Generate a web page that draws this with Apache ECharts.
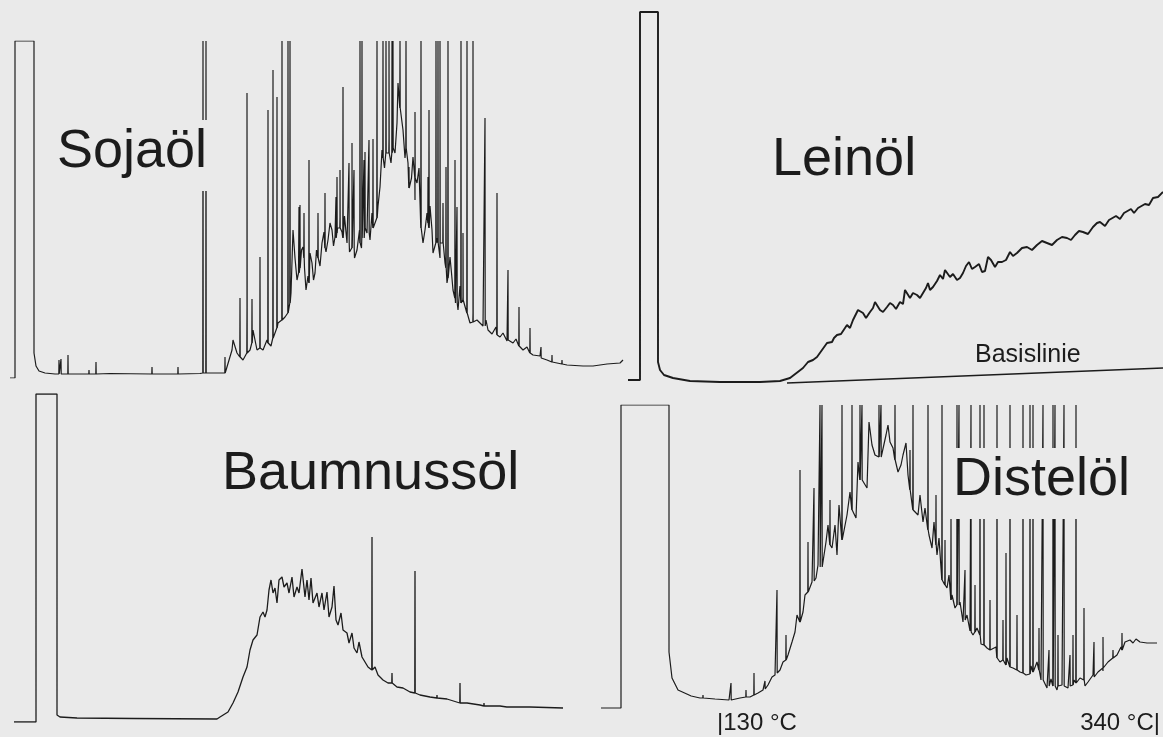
<!DOCTYPE html>
<html>
<head>
<meta charset="utf-8">
<script src="https://cdn.jsdelivr.net/npm/echarts@6/dist/echarts.min.js"></script>
<style>
html,body{margin:0;padding:0;background:#eaeaea;}
#c{width:1163px;height:737px;}
</style>
</head>
<body>
<div id="c"></div>
<script>
// ---- Panel names ----
const panelNames = ['Sojaöl', 'Leinöl', 'Baumnussöl', 'Distelöl'];
const tempLabels = ['|130 °C', '340 °C|'];
const baselineLabel = 'Basislinie';

// ---- Sojaöl: trace [time, signal] and spikes [time, base, peak] ----
const sojaTrace = [[0,0],[0.5,0],[0.5,33.7],[2.4,33.7],[2.4,2.5],[2.6,1.2],[2.9,0.7],[3.5,0.5],[4.5,0.4],[10,0.45],[15,0.4],[19,0.45],[19.7,0.47],[21.7,0.47],[22.2,2.8],[22.3,3.8],[22.7,2.5],[23.0,2.1],[23.3,1.8],[23.7,7.1],[24.0,2.8],[24.3,4.8],[24.7,2.8],[25.0,3.2],[25.3,2.8],[25.7,3.8],[26.1,3.2],[26.8,5.5],[27.5,6.1],[28.1,8.5],[28.3,14.8],[28.5,12.0],[28.7,9.8],[28.85,10.5],[29.0,11.5],[29.15,12.8],[29.3,13.1],[29.45,11.0],[29.6,8.8],[29.8,10.2],[30.0,12.5],[30.2,11.5],[30.35,9.8],[30.5,10.5],[30.65,12.8],[30.8,12.1],[31.0,11.2],[31.2,13.5],[31.4,14.6],[31.6,12.6],[31.8,13.8],[32.0,15.5],[32.2,14.8],[32.35,13.2],[32.5,14.1],[32.75,15.0],[33.0,16.1],[33.2,14.6],[33.45,16.2],[33.7,13.5],[33.95,12.6],[34.2,14.2],[34.45,12.0],[34.7,12.8],[34.95,14.8],[35.15,13.0],[35.3,14.1],[35.5,15.8],[35.7,14.5],[36.0,13.8],[36.2,16.5],[36.5,15.1],[36.8,17.2],[37.0,19.1],[37.2,22.8],[37.45,21.0],[37.7,22.5],[37.9,24.0],[38.1,21.5],[38.3,24.5],[38.5,22.5],[38.7,25.5],[38.8,29.5],[39.1,27.0],[39.3,24.8],[39.5,22.0],[39.8,21.5],[40.0,18.8],[40.15,20.0],[40.3,22.1],[40.5,17.8],[40.7,19.5],[40.9,21.0],[41.1,15.2],[41.3,13.5],[41.5,14.8],[41.7,16.5],[42.0,17.2],[42.2,14.8],[42.3,12.5],[42.7,14.0],[43.0,12.0],[43.3,13.5],[43.5,11.5],[43.7,9.5],[44.0,12.1],[44.15,10.5],[44.3,8.8],[44.55,7.5],[44.8,6.8],[45.0,9.2],[45.3,8.1],[45.6,6.8],[46.0,5.5],[46.3,6.5],[46.7,5.8],[47.0,5.5],[47.3,5.2],[47.6,5.8],[47.8,4.8],[48.2,4.4],[48.6,5.1],[49.0,4.1],[49.3,4.5],[49.7,3.7],[50.3,3.5],[50.6,3.9],[51.3,2.8],[51.7,3.1],[52.3,2.3],[53.0,2.2],[53.7,1.8],[54.7,1.5],[55.7,1.3],[57.3,1.2],[58.3,1.2],[59.7,1.4],[61.0,1.5],[61.3,1.8]];
const sojaSpikes = [[4.9,0.4,1.8],[5.1,0.4,1.9],[5.8,0.4,2.3],[7.9,0.4,0.8],[8.6,0.4,1.6],[14.2,0.4,1.1],[16.8,0.4,1.1],[19.3,0.5,33.7],[19.6,0.5,33.7],[21.5,0.5,2.1],[23.0,2.1,8.0],[23.7,2.5,28.5],[24.2,3.5,7.9],[25.0,3.0,12.1],[25.8,3.5,26.8],[26.3,4.0,30.8],[26.7,5.0,28.1],[27.2,5.8,33.7],[27.8,6.5,33.7],[28.0,7.5,33.7],[28.9,10.5,17.1],[29.0,11.0,17.3],[29.4,12.0,16.5],[29.9,9.5,21.8],[30.8,12.0,16.5],[31.5,13.0,18.5],[32.6,14.0,18.1],[32.7,14.5,20.1],[33.0,15.0,20.8],[33.3,14.0,29.1],[33.9,13.5,21.5],[34.2,13.0,23.5],[34.4,13.0,20.8],[35.0,13.5,33.7],[35.2,14.0,33.7],[35.4,14.0,21.8],[35.5,15.0,22.6],[35.9,14.5,23.8],[36.3,15.0,23.9],[36.7,16.0,33.7],[37.3,22.0,33.7],[37.6,22.5,33.7],[37.9,22.5,33.7],[38.2,22.5,33.7],[38.3,23.0,33.7],[39.0,27.0,33.7],[39.6,23.0,33.7],[39.9,19.0,21.1],[40.5,20.0,26.6],[41.1,15.0,33.7],[41.8,15.5,20.1],[41.9,15.0,26.8],[42.6,13.5,33.7],[42.8,13.5,33.7],[43.0,13.5,33.7],[43.3,13.5,17.5],[43.6,11.0,21.1],[43.8,10.0,33.7],[44.5,8.0,21.8],[44.7,7.5,17.1],[45.1,7.5,33.7],[45.3,7.8,14.5],[45.7,6.5,33.7],[46.3,5.6,33.7],[47.5,5.2,26.0],[48.7,4.3,18.5],[49.8,3.8,10.8],[50.9,3.2,7.1],[52.0,2.5,5.0],[53.1,2.0,3.1],[54.2,1.6,2.3],[55.2,1.4,1.8]];

// ---- Leinöl ----
const leinTrace = [[0,0.4],[1.2,0.4],[1.2,37.2],[3.0,37.2],[3.0,2.2],[3.2,1.4],[3.6,0.9],[4.5,0.6],[6.2,0.3],[9.2,0.2],[13.2,0.2],[15.2,0.3],[16.2,0.6],[17.5,1.6],[18.0,2.2],[18.5,2.4],[18.9,2.7],[19.4,3.4],[19.9,4.1],[20.4,4.2],[20.6,4.6],[20.9,4.9],[21.3,5.0],[21.9,5.9],[22.2,5.6],[22.5,6.4],[22.8,7.0],[23.0,7.4],[23.5,7.1],[23.8,6.6],[24.2,7.2],[24.5,7.6],[24.7,8.2],[25.2,7.4],[25.5,7.2],[25.9,7.7],[26.2,8.1],[26.5,7.9],[26.8,7.5],[27.2,8.2],[27.5,8.0],[27.7,9.4],[28.2,8.6],[28.5,9.1],[28.9,8.9],[29.2,8.6],[29.5,9.1],[29.8,9.6],[30.0,10.1],[30.2,9.4],[30.5,9.7],[30.9,10.3],[31.2,10.9],[31.5,10.5],[31.7,11.4],[32.2,10.7],[32.5,11.0],[32.9,10.4],[33.2,10.6],[33.5,11.1],[33.8,11.8],[34.1,12.2],[34.4,11.5],[34.7,11.7],[35.1,12.0],[35.4,11.2],[35.7,11.3],[36.0,12.7],[36.3,12.4],[36.7,11.7],[37.0,12.2],[37.4,12.2],[37.8,12.4],[38.2,13.2],[38.5,12.8],[38.9,13.1],[39.4,13.6],[39.9,13.7],[40.4,13.4],[40.9,13.9],[41.4,14.3],[41.9,14.1],[42.4,13.9],[42.9,14.4],[43.4,14.7],[43.9,14.6],[44.3,14.4],[44.7,14.9],[45.1,15.3],[45.5,15.2],[46.0,15.0],[46.5,15.7],[46.9,16.1],[47.2,16.2],[47.7,15.8],[48.1,16.4],[48.8,16.8],[49.2,16.5],[49.6,17.1],[50.3,17.5],[50.6,17.1],[51.0,17.6],[51.7,18.0],[52.1,17.9],[52.5,18.6],[53.0,18.7],[53.5,19.2]];
const leinBaseline = [[15.9,0.1],[53.5,1.6]];

// ---- Baumnussöl ----
const baumTrace = [[0,0],[2.2,0],[2.2,32.8],[4.3,32.8],[4.3,0.7],[4.6,0.5],[6.3,0.4],[12,0.35],[20.3,0.3],[20.6,0.5],[21.4,1.0],[21.9,1.9],[22.4,3.0],[22.9,4.5],[23.3,5.5],[23.6,7.2],[23.9,8.2],[24.3,8.7],[24.6,10.5],[24.9,11.0],[25.1,10.5],[25.3,11.2],[25.5,13.2],[25.7,14.2],[25.9,12.9],[26.1,13.4],[26.3,11.9],[26.5,14.2],[26.8,14.5],[27.0,13.5],[27.3,13.9],[27.5,12.9],[27.8,14.5],[28.0,12.5],[28.3,13.5],[28.5,12.9],[28.8,15.3],[29.1,12.5],[29.3,14.2],[29.5,12.2],[29.7,14.4],[29.9,11.9],[30.3,12.9],[30.5,11.5],[30.8,12.9],[31.0,11.2],[31.3,13.0],[31.5,10.5],[31.8,11.5],[32.0,13.6],[32.2,10.2],[32.4,9.7],[32.7,10.9],[32.9,9.2],[33.3,8.9],[33.5,7.9],[33.8,8.9],[34.0,7.4],[34.3,6.9],[34.5,8.0],[34.8,6.5],[35.1,6.0],[35.4,5.5],[36.1,5.5],[36.4,4.7],[36.9,4.2],[37.4,3.9],[38.3,3.5],[38.9,3.4],[39.6,3.0],[40.6,2.7],[41.6,2.5],[43.3,2.3],[45.3,1.9],[46.6,1.7],[48.6,1.6],[51.6,1.5],[54.9,1.4]];
const baumSpikes = [[35.8,5.2,18.5],[37.8,3.9,4.9],[40.1,2.9,15.1],[42.3,2.4,2.7],[44.6,1.9,3.9],[47.0,1.6,1.9],[49.3,1.5,1.7]];

// ---- Distelöl ----
const distTrace = [[0,0.2],[2.0,0.2],[2.0,30.5],[6.8,30.5],[6.8,5.8],[7.1,3.2],[7.7,2.0],[8.8,1.5],[9.9,1.2],[11.4,1.1],[12.8,1.0],[13.9,1.2],[14.9,1.3],[15.7,1.7],[16.2,2.0],[16.7,2.5],[17.1,3.3],[17.4,3.5],[17.9,4.0],[18.2,4.8],[18.7,5.5],[19.1,6.8],[19.4,7.8],[19.6,9.5],[19.9,8.8],[20.2,9.8],[20.4,11.5],[20.7,11.8],[21.1,12.8],[21.5,13.2],[21.7,14.5],[22.2,14.2],[22.5,16.8],[22.7,18.5],[23.1,16.2],[23.4,18.5],[23.6,15.5],[23.8,20.5],[24.3,16.8],[24.6,19.5],[24.9,21.8],[25.3,19.8],[25.5,19.2],[25.7,24.8],[26.3,22.8],[26.6,22.2],[26.8,28.8],[27.1,26.5],[27.4,25.5],[28.2,25.2],[28.5,27.5],[28.7,28.5],[28.9,26.8],[29.2,26.2],[29.7,23.8],[30.0,24.5],[30.2,25.5],[30.5,26.7],[30.7,23.5],[31.0,22.0],[31.4,20.2],[31.7,19.5],[31.9,21.5],[32.2,18.8],[32.4,20.2],[32.8,17.5],[33.1,16.2],[33.3,18.8],[33.6,15.5],[33.8,17.2],[34.2,12.8],[34.6,12.2],[34.8,13.5],[35.1,11.5],[35.4,10.2],[35.9,10.8],[36.2,8.8],[36.6,9.5],[36.9,7.9],[37.2,7.5],[37.6,8.2],[38.0,6.6],[38.6,6.2],[39.1,5.8],[39.5,6.3],[39.9,4.8],[40.6,5.2],[41.2,4.2],[41.9,3.8],[42.5,3.5],[43.0,4.4],[43.6,4.8],[44.0,3.0],[44.6,2.2],[45.0,3.1],[45.6,2.0],[46.1,2.5],[46.7,2.2],[47.3,3.0],[47.9,3.2],[48.4,2.4],[48.7,2.8],[49.2,3.5],[49.7,3.8],[50.2,3.9],[50.7,4.8],[51.2,5.0],[51.6,5.5],[52.0,6.3],[52.4,6.8],[52.9,7.0],[53.2,6.7],[53.5,7.1],[53.9,6.8],[54.6,6.7],[55.6,6.7]];
const distSpikes = [[9.0,1.4,1.7],[10.2,1.2,1.5],[13.0,1.0,2.7],[14.5,1.3,2.0],[15.3,1.5,3.7],[16.4,2.1,2.9],[17.6,3.7,12.0],[18.5,5.0,7.5],[19.9,8.8,24.0],[20.7,11.8,16.8],[21.3,12.9,22.2],[21.9,14.3,30.5],[22.1,14.3,30.5],[22.9,16.5,21.0],[24.1,17.0,30.5],[25.1,20.0,30.5],[25.9,23.0,30.5],[26.1,23.0,30.5],[27.8,25.3,30.5],[28.0,25.3,30.5],[29.4,25.0,30.5],[30.9,22.0,26.0],[31.2,20.0,30.5],[32.7,18.0,30.5],[33.5,16.5,21.5],[34.1,13.0,30.5],[34.4,12.5,17.0],[35.0,11.0,19.5],[35.6,10.5,30.5],[35.8,10.5,30.5],[36.4,9.0,14.0],[37.0,7.8,30.5],[37.4,7.8,12.5],[37.9,7.5,30.5],[38.3,6.5,30.5],[38.9,6.0,11.0],[39.6,5.2,30.5],[40.2,5.0,9.0],[40.5,4.5,15.7],[40.9,4.3,30.5],[41.6,4.0,9.5],[42.2,3.7,30.5],[42.9,3.6,30.5],[43.2,3.8,30.5],[43.8,4.0,8.2],[44.2,3.0,30.5],[44.8,2.4,6.0],[45.2,2.4,30.5],[45.4,2.4,30.5],[45.7,2.4,7.5],[46.3,2.4,30.5],[46.9,2.4,5.5],[47.2,2.5,7.5],[47.5,2.7,30.5],[48.3,3.0,10.2],[49.3,3.3,6.8],[50.2,4.2,7.3],[51.2,5.2,6.0],[52.1,6.0,7.7]];

// ---- build line data (trace + spikes merged in time order) ----
function merge(trace, spikes) {
  const pts = trace.map(p => [p[0], p[1]]);
  spikes.forEach(s => {
    pts.push([s[0] - 0.02, s[1]], [s[0], s[2]], [s[0] + 0.02, s[1]]);
  });
  return pts.sort((a, b) => a[0] - b[0]);
}

const panels = [
  {data: merge(sojaTrace, sojaSpikes), grid: {left: 10, top: 41, width: 615, height: 337}, xMax: 61.5, yMax: 33.7, w: 1.2},
  {data: merge(leinTrace, []), grid: {left: 628, top: 12, width: 535, height: 372}, xMax: 53.5, yMax: 37.2, w: 1.9},
  {data: merge(baumTrace, baumSpikes), grid: {left: 14, top: 394, width: 551, height: 328}, xMax: 55.1, yMax: 32.8, w: 1.3},
  {data: merge(distTrace, distSpikes), grid: {left: 601, top: 405, width: 562, height: 305}, xMax: 56.2, yMax: 30.5, w: 1.2}
];

const ink = '#1c1c1c';
const bg = '#eaeaea';
const bigFont = '54px "Liberation Sans", Arial, sans-serif';

const option = {
  backgroundColor: bg,
  animation: false,
  grid: panels.map(p => Object.assign({containLabel: false}, p.grid)),
  xAxis: panels.map((p, i) => ({type: 'value', gridIndex: i, min: 0, max: p.xMax, show: false})),
  yAxis: panels.map((p, i) => ({type: 'value', gridIndex: i, min: 0, max: p.yMax, show: false})),
  series: panels.map((p, i) => ({
    type: 'line', xAxisIndex: i, yAxisIndex: i, data: p.data,
    symbol: 'none', silent: true, clip: true,
    lineStyle: {color: ink, width: p.w}
  })).concat([{
    type: 'line', xAxisIndex: 1, yAxisIndex: 1, data: leinBaseline,
    symbol: 'none', silent: true, lineStyle: {color: ink, width: 1.6}
  }]),
  graphic: [
    {type: 'text', z: 100, x: 51, y: 120, style: {text: panelNames[0], font: bigFont, fill: ink, lineHeight: 54, padding: [5, 6, 12, 6], backgroundColor: bg}},
    {type: 'text', z: 100, x: 772, y: 133, style: {text: panelNames[1], font: bigFont, fill: ink, lineHeight: 54}},
    {type: 'text', z: 100, x: 222, y: 447, style: {text: panelNames[2], font: bigFont, fill: ink, lineHeight: 54}},
    {type: 'text', z: 100, x: 947, y: 448, style: {text: panelNames[3], font: bigFont, fill: ink, lineHeight: 54, padding: [5, 6, 12, 6], backgroundColor: bg}},
    {type: 'text', z: 100, x: 975, y: 343, style: {text: baselineLabel, font: '25px "Liberation Sans", Arial, sans-serif', fill: ink, lineHeight: 25}},
    {type: 'text', z: 100, x: 717, y: 711, style: {text: tempLabels[0], font: '24px "Liberation Sans", Arial, sans-serif', fill: ink, lineHeight: 24}},
    {type: 'text', z: 100, x: 1160, y: 711, style: {text: tempLabels[1], font: '24px "Liberation Sans", Arial, sans-serif', fill: ink, lineHeight: 24, align: 'right'}}
  ]
};

const chart = echarts.init(document.getElementById('c'), null, {renderer: 'canvas'});
chart.setOption(option);
</script>
</body>
</html>
